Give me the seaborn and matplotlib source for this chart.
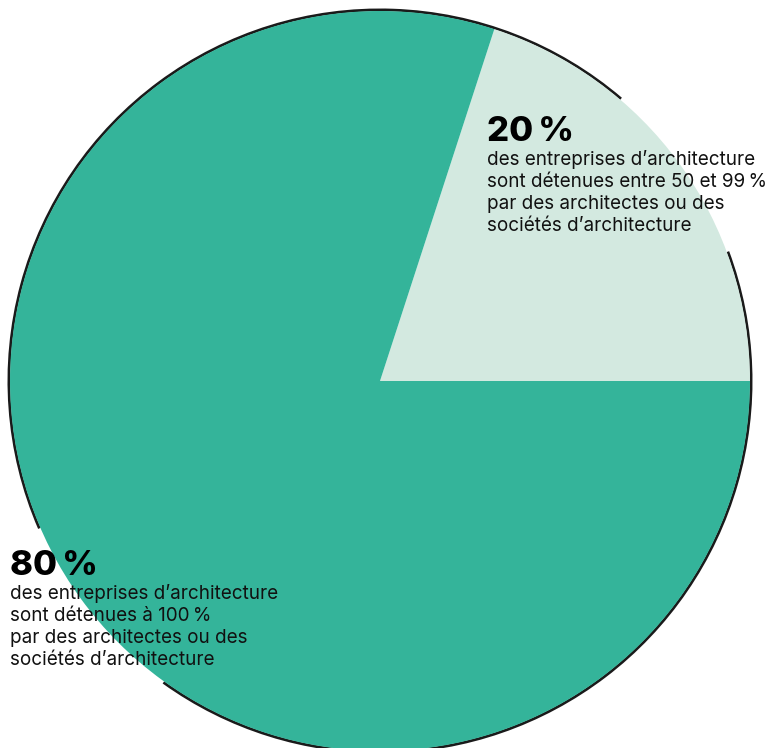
import numpy as np
import matplotlib
matplotlib.use('Agg')
import matplotlib.pyplot as plt
import seaborn as sns
from matplotlib.patches import Arc

sns.set_style('white')
plt.rcParams['font.family'] = ['Inter', 'DejaVu Sans']

# data
shares = [20, 80]
big_labels = ['20\u202f%', '80\u202f%']
small_labels = [
    'des entreprises d\u2019architecture\nsont détenues entre 50 et 99\u202f%\npar des architectes ou des\nsociétés d\u2019architecture',
    'des entreprises d\u2019architecture\nsont détenues à 100\u202f%\npar des architectes ou des\nsociétés d\u2019architecture',
]
colors = ['#D3E9E0', '#34B49A']

fig = plt.figure(figsize=(7.69, 7.48), dpi=100)
ax = fig.add_axes([10 / 769, (748 - 381 - 370) / 748, 740 / 769, 740 / 748])

# outline of the circle, with gaps where the labels sit
for t1, t2 in [(49.5, 203.4), (234.3, 380.4)]:
    ax.add_patch(Arc((0, 0), 2.006, 2.006, theta1=t1, theta2=t2,
                     color='#1a1a1a', lw=2, zorder=0, clip_on=False))

ax.pie(shares, colors=colors, startangle=0, counterclock=True,
       radius=1, wedgeprops=dict(linewidth=0))
ax.set_xlim(-1, 1)
ax.set_ylim(-1, 1)
ax.axis('off')

# label positions in figure pixels (from top-left)
pos = [(487, 141), (10, 575)]
for (x, y), big, small in zip(pos, big_labels, small_labels):
    fig.text(x / 769, 1 - y / 748, big, fontsize=25, fontweight='heavy',
             ha='left', va='baseline', color='#000000')
    fig.text(x / 769, 1 - (y + 9) / 748, small, fontsize=13.6,
             ha='left', va='top', color='#111111', linespacing=1.28)

fig.savefig('out.png', dpi=100)
